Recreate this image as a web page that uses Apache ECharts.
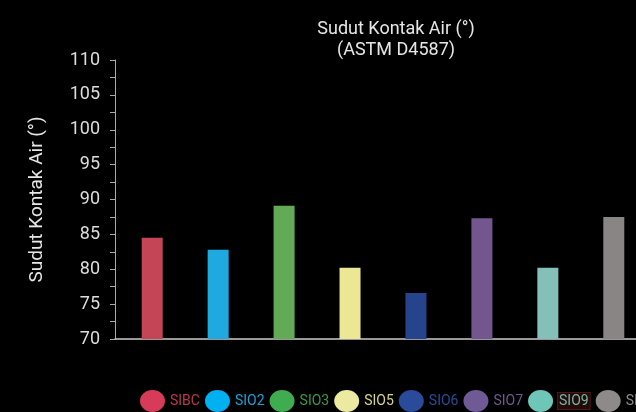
<!DOCTYPE html>
<html><head><meta charset="utf-8">
<script src="https://cdn.jsdelivr.net/npm/echarts@6/dist/echarts.min.js"></script>
<style>html,body{margin:0;padding:0;background:#000;overflow:hidden;}#c{width:792px;height:412px;}</style>
</head><body><div id="c"></div>
<script>
const names = ['SIBC','SIO2','SIO3','SIO5','SIO6','SIO7','SIO9','SIO8'];
const values = [84.5, 82.8, 89.1, 80.2, 76.6, 87.3, 80.2, 87.5];
const barColors = ['#c44656','#1eaae0','#62aa55','#ece795','#26448c','#73568e','#84c0b8','#8a8585'];
const legendColors = ['#d83a5a','#00b0f0','#3fad4f','#ece9a0','#2a4a9a','#6f5a95','#6ec6b8','#8e8a8a'];
const legendTextColors = ['#b83a50','#1aa0d8','#3a9a48','#d8d490','#2a4a9a','#6f5a8f','#70b8a8','#8e8a8a'];
const yTicks = {min:70, max:110, interval:5};

const ellipse = 'path://M0,50 A50,50 0 1,0 100,50 A50,50 0 1,0 0,50 Z';
const chart = echarts.init(document.getElementById('c'));
chart.setOption({
  backgroundColor:'#000',
  animation:false,
  title:{text:'Sudut Kontak Air (°)\n(ASTM D4587)', left:'center', top:14,
    textStyle:{color:'#e6e6e6', fontSize:18, fontWeight:'normal', fontFamily:'Roboto', lineHeight:21}},
  legend:{left:135, top:385, itemWidth:25, itemHeight:22, itemGap:5, icon:ellipse, symbolKeepAspect:false,
    data:names.map((n,i)=>{
      const ts = {color:legendTextColors[i], fontSize:14, fontFamily:'Roboto'};
      if (n === 'SIO9') Object.assign(ts, {backgroundColor:'#260909', borderColor:'#4a1818', borderWidth:1, padding:[1,1]});
      return {name:n, icon:ellipse, itemStyle:{color:legendColors[i]}, textStyle:ts};
    })},
  grid:{left:115, right:141, top:60, bottom:73},
  xAxis:{type:'category', data:[''], axisTick:{show:false}, axisLabel:{show:false},
    axisLine:{lineStyle:{color:'#cccccc', width:1.5}}},
  yAxis:{type:'value', min:yTicks.min, max:yTicks.max, interval:yTicks.interval,
    name:'Sudut Kontak Air (°)', nameLocation:'middle', nameGap:68,
    nameTextStyle:{color:'#e6e6e6', fontSize:19, fontFamily:'Roboto'},
    axisLine:{show:true, lineStyle:{color:'#aaaaaa'}},
    axisTick:{show:true, inside:false, length:5, lineStyle:{color:'#aaaaaa'}},
    minorTick:{show:true, splitNumber:2, length:5, lineStyle:{color:'#aaaaaa'}},
    splitLine:{show:false},
    axisLabel:{color:'#dddddd', fontSize:18, fontFamily:'Roboto', margin:15}},
  series:names.map((n,i)=>({name:n, type:'bar', data:[values[i]], barWidth:21, barGap:'214%',
    itemStyle:{color:barColors[i]}}))
});
</script></body></html>
